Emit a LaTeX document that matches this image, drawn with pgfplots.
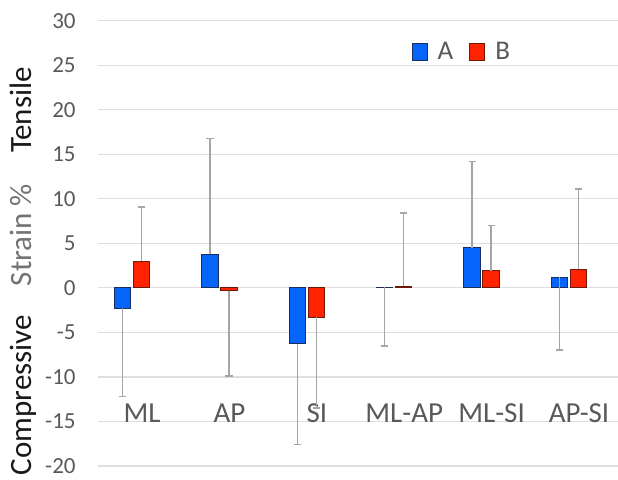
\documentclass[border=0pt]{standalone}
\usepackage{fontspec}
\setmainfont{Carlito}
\usepackage{pgfplots}
\pgfplotsset{compat=1.18}
\definecolor{barA}{RGB}{5,100,250}
\definecolor{barAedge}{RGB}{25,45,95}
\definecolor{barB}{RGB}{255,35,0}
\definecolor{barBedge}{RGB}{110,25,10}
\definecolor{errgrey}{RGB}{165,165,165}
\definecolor{gridgrey}{RGB}{222,222,222}
\definecolor{labgrey}{RGB}{89,89,89}
\definecolor{strgrey}{RGB}{115,115,115}
\definecolor{darktxt}{RGB}{25,25,25}
\pgfplotsset{sqlegend/.style={legend image code/.code={\draw[##1] (0pt,-4.25pt) rectangle (7.5pt,4.25pt);}}}
\begin{document}
\begin{tikzpicture}
\begin{axis}[
  at={(49pt,6.5pt)}, anchor=south west,
  scale only axis, width=260pt, height=222.65pt,
  xmin=-0.389, xmax=5.56, ymin=-20, ymax=30,
  ytick={-20,-15,-10,-5,0,5,10,15,20,25,30},
  yticklabels={-20,-15,-10,-5,0,5,10,15,20,25,30},
  xtick={0,1,2,3,4,5},
  xticklabels={ML,AP,SI,ML-AP,ML-SI,AP-SI},
  xticklabel style={anchor=center, inner sep=0pt, yshift=26.25pt, xshift=5pt,
    font=\fontsize{14.5}{16}\selectfont, text=labgrey},
  yticklabel style={anchor=east, inner sep=0pt, xshift=-11pt,
    font=\fontsize{11.5}{13}\selectfont, text=labgrey},
  major tick length=0pt,
  axis line style={draw=none},
  ymajorgrids, grid style={gridgrey, line width=0.6pt},
  legend columns=2,
  legend style={at={(0.591,0.93)}, anchor=west, draw=none, fill=none,
    font=\fontsize{13.5}{15}\selectfont, text=labgrey,
    /tikz/every odd column/.append style={column sep=3pt},
    /tikz/every even column/.append style={column sep=6pt}},
  error bars/y dir=plus, error bars/y explicit,
  error bars/error bar style={errgrey, line width=0.75pt},
  error bars/error mark options={rotate=90, errgrey, mark size=1.8pt, line width=0.75pt},
]
\addplot[ybar, bar width=8.25pt, bar shift=0pt, fill=barA, draw=barAedge, line width=0.5pt, sqlegend]
  table[x=x, y=y, y error=e] {
x y e
-0.1087 -2.3 -9.9
0.8913 3.75 13.0
1.8913 -6.3 -11.3
2.8913 0.05 -6.55
3.8913 4.5 9.7
4.8913 1.2 -8.2
};
\addlegendentry{A}
\addplot[ybar, bar width=8.25pt, bar shift=0pt, fill=barB, draw=barBedge, line width=0.5pt, sqlegend]
  table[x=x, y=y, y error=e] {
x y e
0.1087 3.0 6.1
1.1087 -0.3 -9.6
2.1087 -3.3 -10.2
3.1087 0.2 8.2
4.1087 1.95 5.05
5.1087 2.07 9.03
};
\addlegendentry{B}
\end{axis}
\node[rotate=90, anchor=base, inner sep=0pt, font=\fontsize{15.5}{17}\selectfont, text=darktxt] at (15.85pt,184.5pt) {Tensile};
\node[rotate=90, anchor=base, inner sep=0pt, font=\fontsize{15.5}{17}\selectfont, text=strgrey] at (15.85pt,122pt) {Strain \%};
\node[rotate=90, anchor=base, inner sep=0pt, font=\fontsize{15.5}{17}\selectfont, text=darktxt] at (15.85pt,42pt) {Compressive};
\pgfresetboundingbox
\useasboundingbox (0,0) rectangle (309pt,239.5pt);
\end{tikzpicture}
\end{document}
